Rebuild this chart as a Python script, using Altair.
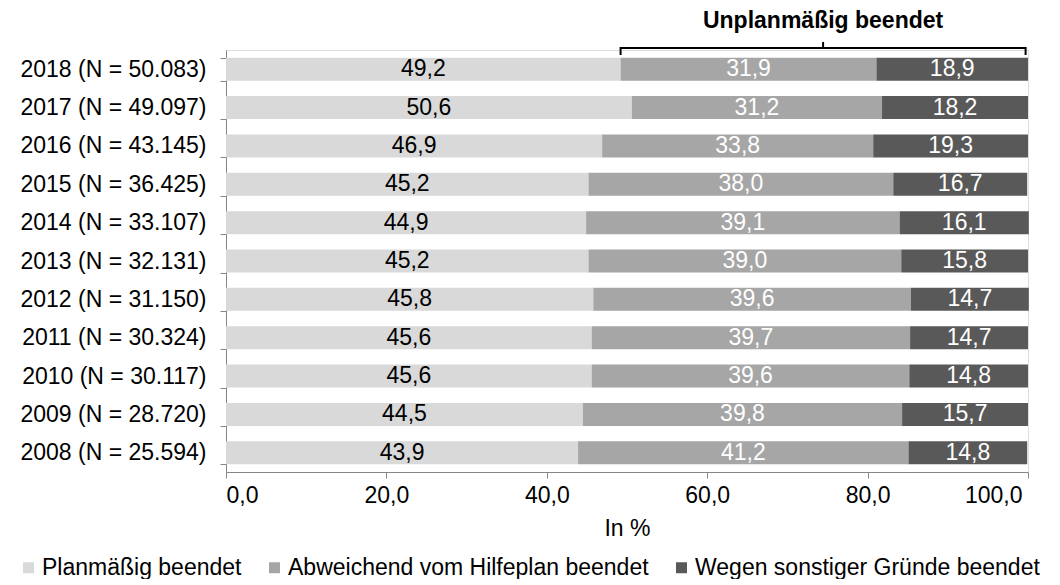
import altair as alt
import pandas as pd

years = ["2018", "2017", "2016", "2015", "2014", "2013", "2012", "2011", "2010", "2009", "2008"]
n_values = ["50.083", "49.097", "43.145", "36.425", "33.107", "32.131", "31.150", "30.324", "30.117", "28.720", "25.594"]
planmaessig = [49.2, 50.6, 46.9, 45.2, 44.9, 45.2, 45.8, 45.6, 45.6, 44.5, 43.9]
abweichend = [31.9, 31.2, 33.8, 38.0, 39.1, 39.0, 39.6, 39.7, 39.6, 39.8, 41.2]
sonstige = [18.9, 18.2, 19.3, 16.7, 16.1, 15.8, 14.7, 14.7, 14.8, 15.7, 14.8]
categories = ["Planmäßig beendet", "Abweichend vom Hilfeplan beendet", "Wegen sonstiger Gründe beendet"]
colors = ["#D9D9D9", "#A6A6A6", "#595959"]
label_colors = ["#000000", "#FFFFFF", "#FFFFFF"]
x_ticks = [0, 20, 40, 60, 80, 100]
bracket_title = "Unplanmäßig beendet"
bracket_from = [49.2]
bracket_to = [99.7]

FONT = "Liberation Sans"
FS = 23

row_labels = [f"{y} (N = {n})" for y, n in zip(years, n_values)]
rows = []
for i, lab in enumerate(row_labels):
    for k, (cat, vals) in enumerate(zip(categories, [planmaessig, abweichend, sonstige])):
        rows.append({"label": lab, "cat": cat, "order": k, "value": vals[i], "tc": label_colors[k]})
df = pd.DataFrame(rows)

yenc = alt.Y(
    "label:N",
    sort=row_labels,
    scale=alt.Scale(paddingInner=0.4, paddingOuter=0.2),
    axis=alt.Axis(
        title=None, tickBand="extent", tickSize=6, labelPadding=14,
        labelFontSize=FS, labelFont=FONT, labelColor="#000000",
        domainColor="#868686", tickColor="#868686", labelLimit=400,
    ),
)
xscale = alt.Scale(domain=[0, 100], nice=False)

base = alt.Chart(df).transform_stack(
    stack="value", as_=["x0", "x1"], groupby=["label"], sort=[alt.SortField("order")]
).transform_calculate(
    mid="(datum.x0 + datum.x1) / 2",
    txt="replace(format(datum.value, '.1f'), '.', ',')",
)

bars = base.mark_bar().encode(
    y=yenc,
    x=alt.X(
        "x0:Q", scale=xscale,
        axis=alt.Axis(
            values=x_ticks, labelExpr="replace(format(datum.value, '.1f'), '.', ',')",
            title="In %", grid=False, tickSize=6, labelPadding=6,
            labelOffset={"condition": {"test": "datum.value == 100", "value": -6}, "value": 0},
            labelFontSize=FS, labelFont=FONT, labelColor="#000000",
            titleFontSize=FS, titleFont=FONT, titleFontWeight="normal", titleColor="#000000",
            titlePadding=10, domainColor="#868686", tickColor="#868686",
        ),
    ),
    x2="x1:Q",
    color=alt.Color(
        "cat:N",
        scale=alt.Scale(domain=categories, range=colors),
        legend=alt.Legend(
            title=None, orient="none", direction="horizontal", legendX=-209, legendY=506,
            symbolType="square", symbolSize=121, symbolStrokeWidth=0,
            labelFontSize=FS, labelFont=FONT, labelColor="#000000",
            labelOffset=2, columnPadding=21, labelLimit=600,
        ),
    ),
    order=alt.Order("order:Q"),
)

texts = base.mark_text(font=FONT, fontSize=FS, baseline="middle", align="center").encode(
    y=alt.Y("label:N", sort=row_labels),
    x=alt.X("mid:Q", scale=xscale),
    text="txt:N",
    color=alt.Color("tc:N", scale=None),
)

bdf = pd.DataFrame({"a": bracket_from, "b": bracket_to, "t": [bracket_title]})
bdf["m"] = (bdf["a"] + bdf["b"]) / 2
bchart = alt.Chart(bdf)
rule_kw = dict(color="#000000", strokeWidth=2)
br_h = bchart.mark_rule(**rule_kw).encode(x=alt.X("a:Q", scale=xscale), x2="b:Q", y=alt.value(-2))
br_l = bchart.mark_rule(**rule_kw).encode(x=alt.X("a:Q", scale=xscale), y=alt.value(-3), y2=alt.value(5))
br_r = bchart.mark_rule(**rule_kw).encode(x=alt.X("b:Q", scale=xscale), y=alt.value(-3), y2=alt.value(5))
br_m = bchart.mark_rule(**rule_kw).encode(x=alt.X("m:Q", scale=xscale), y=alt.value(-8), y2=alt.value(-2))
br_t = bchart.mark_text(font=FONT, fontSize=FS, fontWeight="bold", baseline="alphabetic", align="center", color="#000000").encode(
    x=alt.X("m:Q", scale=xscale), y=alt.value(-22), text="t:N"
)

chart = alt.layer(bars, texts, br_h, br_l, br_r, br_m, br_t).properties(
    width=802, height=422,
    autosize=alt.AutoSizeParams(type="none"),
    padding={"left": 218, "top": 42, "right": 24, "bottom": 107},
).configure_view(stroke=None).configure(background="#FFFFFF")

chart.save("out.html", embed_options={"renderer": "svg", "actions": False})
